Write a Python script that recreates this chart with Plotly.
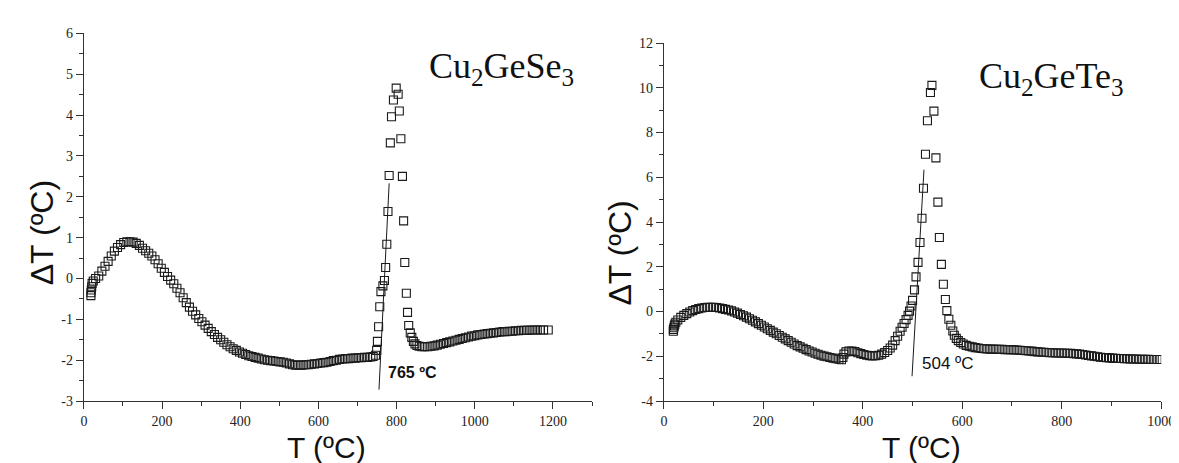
import plotly.graph_objects as go

# ---------------- Cu2GeSe3 (left) ----------------
se_T = [18, 18, 19, 20, 21, 24, 30, 38, 46, 54, 62, 70, 78, 86, 94, 102, 110, 118, 126, 134,
        142, 150, 158, 166, 174, 182, 190, 198, 206, 214, 222, 230, 238, 246, 254, 262, 270, 278,
        286, 294, 302, 310, 318, 326, 334, 342, 350, 358, 366, 374, 382, 390, 398, 406, 414, 422,
        430, 438, 446, 454, 462, 470, 478, 486, 494, 502, 510, 518, 526, 534, 542, 550, 558, 566,
        574, 582, 590, 598, 606, 614, 622, 630, 638, 646, 654, 662, 670, 678, 686, 694, 702, 710,
        718, 726, 734, 740,
        746, 749, 751, 754, 757, 760, 765, 769, 772, 775, 778, 781, 784, 787, 792, 799, 804, 807,
        811, 815, 818, 821, 825, 828, 831, 835, 839, 843, 847, 852, 858, 865, 872, 880, 888, 896,
        904, 912, 920, 928, 936, 944, 952, 960, 968, 976, 984, 992, 1000, 1008, 1016, 1024, 1032,
        1040, 1048, 1056, 1064, 1072, 1080, 1088, 1096, 1104, 1112, 1120, 1128, 1136, 1144, 1152,
        1160, 1168, 1176, 1188]
se_dT = [-0.42, -0.35, -0.28, -0.2, -0.12, -0.06, 0.0, 0.06, 0.18, 0.3, 0.42, 0.55, 0.67, 0.76,
         0.83, 0.88, 0.9, 0.9, 0.89, 0.86, 0.81, 0.74, 0.68, 0.62, 0.55, 0.46, 0.36, 0.25, 0.15,
         0.05, -0.04, -0.13, -0.24, -0.35, -0.47, -0.59, -0.7, -0.8, -0.89, -0.98, -1.06, -1.14,
         -1.22, -1.3, -1.37, -1.44, -1.5, -1.56, -1.62, -1.67, -1.72, -1.76, -1.8, -1.83, -1.86,
         -1.89, -1.91, -1.93, -1.95, -1.97, -1.99, -2.0, -2.01, -2.02, -2.03, -2.04, -2.05, -2.07,
         -2.09, -2.11, -2.12, -2.12, -2.12, -2.11, -2.11, -2.1, -2.09, -2.08, -2.07, -2.06, -2.05,
         -2.03, -2.01, -2.0, -1.98, -1.97, -1.96, -1.96, -1.95, -1.95, -1.94, -1.94, -1.93, -1.93,
         -1.92, -1.91,
         -1.88, -1.76, -1.54, -1.18, -0.69, -0.32, -0.18, -0.05, 0.27, 0.84, 1.64, 2.52, 3.32,
         3.96, 4.37, 4.66, 4.51, 4.1, 3.42, 2.5, 1.41, 0.39, -0.36, -0.83, -1.15, -1.33, -1.44,
         -1.54, -1.6, -1.64, -1.66, -1.67, -1.67, -1.67, -1.66, -1.65, -1.63, -1.61, -1.59, -1.57,
         -1.55, -1.53, -1.51, -1.49, -1.47, -1.45, -1.43, -1.41, -1.4, -1.38, -1.37, -1.36, -1.35,
         -1.34, -1.33, -1.32, -1.31, -1.3, -1.3, -1.29, -1.29, -1.28, -1.28, -1.27, -1.27, -1.27,
         -1.26, -1.26, -1.26, -1.26, -1.26, -1.26]
se_tangent_T = [755, 781]
se_tangent_dT = [-2.72, 2.33]
se_onset_label = "765 ºC"
se_title = "Cu<sub>2</sub>GeSe<sub>3</sub>"
se_yticks = [-3, -2, -1, 0, 1, 2, 3, 4, 5, 6]
se_xticks = [0, 200, 400, 600, 800, 1000, 1200]

# ---------------- Cu2GeTe3 (right) ----------------
te_T = [19, 19, 20, 21, 22, 24, 28, 34, 40, 46, 52, 58, 64, 70, 76, 82, 88, 94, 100, 106, 112,
        118, 124, 130, 136, 142, 148, 154, 160, 166, 172, 178, 184, 190, 196, 202, 208, 214, 220,
        226, 232, 238, 244, 250, 256, 262, 268, 274, 280, 286, 292, 298, 304, 310, 316, 322, 328,
        334, 340, 346, 352, 357, 360, 362, 366, 372, 378, 384, 390, 396, 402, 408, 414, 420, 426,
        432, 438, 444, 450, 455, 460, 465, 470, 475, 479, 483, 487, 491, 494, 497, 500, 504, 507,
        511, 515, 519, 522, 526, 530, 536, 539, 543, 547, 551, 554, 558, 562, 566, 569, 573, 577,
        581, 584, 588, 592, 597, 602, 608, 614, 620, 626, 632, 638, 644, 650, 656, 662, 668, 674,
        680, 686, 692, 698, 704, 710, 716, 722, 728, 734, 740, 746, 752, 758, 764, 770, 776, 782,
        788, 794, 800, 806, 812, 818, 824, 830, 836, 842, 848, 854, 860, 866, 872, 878, 884, 890,
        896, 902, 908, 914, 920, 926, 932, 938, 944, 950, 956, 962, 968, 974, 980, 986, 992, 998]
te_dT = [-0.88, -0.8, -0.72, -0.64, -0.56, -0.48, -0.38, -0.26, -0.17, -0.09, -0.02, 0.04, 0.09,
         0.13, 0.16, 0.18, 0.19, 0.19, 0.19, 0.18, 0.16, 0.13, 0.1, 0.07, 0.03, -0.02, -0.07,
         -0.13, -0.19, -0.25, -0.32, -0.39, -0.46, -0.54, -0.61, -0.69, -0.77, -0.84, -0.92,
         -0.99, -1.07, -1.15, -1.22, -1.3, -1.37, -1.45, -1.52, -1.58, -1.64, -1.7, -1.76, -1.81,
         -1.86, -1.91, -1.95, -1.99, -2.02, -2.05, -2.08, -2.11, -2.13, -2.15, -2.05, -1.9, -1.8,
         -1.76, -1.76, -1.79, -1.84, -1.88, -1.92, -1.95, -1.97, -1.98, -1.97, -1.95, -1.9, -1.83,
         -1.74, -1.63, -1.5, -1.3, -1.1, -0.88, -0.7, -0.53, -0.36, -0.17, 0.02, 0.25, 0.5, 0.97,
         1.55, 2.2, 3.09, 4.17, 5.51, 7.03, 8.53, 9.79, 10.11, 8.96, 6.87, 4.89, 3.31, 2.11, 1.22,
         0.54, 0.04, -0.34, -0.61, -0.87, -1.06, -1.2, -1.3, -1.38, -1.45, -1.51, -1.55, -1.58,
         -1.61, -1.63, -1.65, -1.66, -1.67, -1.68, -1.68, -1.69, -1.69, -1.69, -1.7, -1.7, -1.7,
         -1.71, -1.72, -1.73, -1.74, -1.75, -1.76, -1.77, -1.79, -1.8, -1.81, -1.82, -1.83, -1.84,
         -1.84, -1.85, -1.85, -1.85, -1.86, -1.86, -1.87, -1.88, -1.89, -1.9, -1.92, -1.94, -1.96,
         -1.98, -2.0, -2.02, -2.04, -2.05, -2.06, -2.07, -2.08, -2.09, -2.1, -2.1, -2.11, -2.11,
         -2.12, -2.12, -2.12, -2.13, -2.13, -2.13, -2.13, -2.14, -2.14, -2.14, -2.14]
te_tangent_T = [499, 523]
te_tangent_dT = [-2.89, 6.34]
te_onset_label = "504 ºC"
te_title = "Cu<sub>2</sub>GeTe<sub>3</sub>"
te_yticks = [-4, -2, 0, 2, 4, 6, 8, 10, 12]
te_xticks = [0, 200, 400, 600, 800, 1000]

x_title = "T (ºC)"
y_title = "ΔT (ºC)"

W, H = 1179, 463
INK = "#1a1a1a"
AX = "#333333"
SERIF = "Liberation Serif"
SANS = "Liberation Sans"

fig = go.Figure()

marker = dict(symbol="square-open", size=8, color=INK, line=dict(width=1.1, color=INK))

fig.add_trace(go.Scatter(x=se_T, y=se_dT, mode="markers", marker=marker,
                         xaxis="x", yaxis="y", showlegend=False))
fig.add_trace(go.Scatter(x=se_tangent_T, y=se_tangent_dT, mode="lines",
                         line=dict(color=INK, width=1), xaxis="x", yaxis="y", showlegend=False))
fig.add_trace(go.Scatter(x=te_T, y=te_dT, mode="markers", marker=marker,
                         xaxis="x2", yaxis="y2", showlegend=False))
fig.add_trace(go.Scatter(x=te_tangent_T, y=te_tangent_dT, mode="lines",
                         line=dict(color=INK, width=1), xaxis="x2", yaxis="y2", showlegend=False))


def axis(domain, rng, ticks, anchor, minor_step):
    return dict(domain=domain, range=rng, anchor=anchor, tickvals=ticks,
                ticktext=[str(t) for t in ticks], ticks="outside", ticklen=7, tickwidth=1.2,
                tickcolor=AX, showline=True, linecolor=AX, linewidth=1.3, showgrid=False,
                zeroline=False, ticklabeloverflow="allow",
                tickfont=dict(family=SERIF, size=14, color="#222"),
                minor=dict(ticks="outside", ticklen=4, tickwidth=1.2, tickcolor=AX,
                           dtick=minor_step, tick0=0, showgrid=False))


yb = (H - 399) / H
fig.update_layout(
    width=W, height=H, margin=dict(l=0, r=0, t=0, b=0),
    paper_bgcolor="white", plot_bgcolor="white",
    font=dict(family=SERIF, size=14, color="#222"),
    xaxis=axis([73 / W, 589 / W], [0, 1300], se_xticks, "y", 100),
    yaxis=axis([yb, (H - 19) / H], [-3, 6], se_yticks, "x", 0.5),
    xaxis2=axis([662 / W, 1167 / W], [0, 1000], te_xticks, "y2", 100),
    yaxis2=axis([yb, (H - 29) / H], [-4, 12], te_yticks, "x2", 1),
)

ann = [
    # panel titles
    dict(text=se_title, x=877, y=5.15, xref="x", yref="y", xanchor="left", yanchor="middle",
         font=dict(family=SERIF, size=36, color="#111")),
    dict(text=te_title, x=630, y=10.4, xref="x2", yref="y2", xanchor="left", yanchor="middle",
         font=dict(family=SERIF, size=36, color="#111")),
    # onset labels
    dict(text="<b>" + se_onset_label + "</b>", x=772, y=-2.29, xref="x", yref="y",
         xanchor="left", yanchor="middle", font=dict(family=SANS, size=16, color="#111")),
    dict(text=te_onset_label, x=515, y=-2.31, xref="x2", yref="y2",
         xanchor="left", yanchor="middle", font=dict(family=SANS, size=17, color="#111")),
    # axis titles
    dict(text=x_title, x=319 / W, y=1 - 447 / H, xref="paper", yref="paper",
         xanchor="center", yanchor="middle", font=dict(family=SANS, size=30, color="#111")),
    dict(text=x_title, x=924 / W, y=1 - 447 / H, xref="paper", yref="paper",
         xanchor="center", yanchor="middle", font=dict(family=SANS, size=30, color="#111")),
    dict(text=y_title, x=30 / W, y=1 - 225 / H, xref="paper", yref="paper", textangle=-90,
         xanchor="center", yanchor="middle", font=dict(family=SANS, size=32, color="#111")),
    dict(text=y_title, x=617 / W, y=1 - 246 / H, xref="paper", yref="paper", textangle=-90,
         xanchor="center", yanchor="middle", font=dict(family=SANS, size=32, color="#111")),
]
for a in ann:
    a["showarrow"] = False
fig.update_layout(annotations=ann)

assert len(se_T) == len(se_dT), (len(se_T), len(se_dT))
assert len(te_T) == len(te_dT), (len(te_T), len(te_dT))

fig.write_html("out.html")
